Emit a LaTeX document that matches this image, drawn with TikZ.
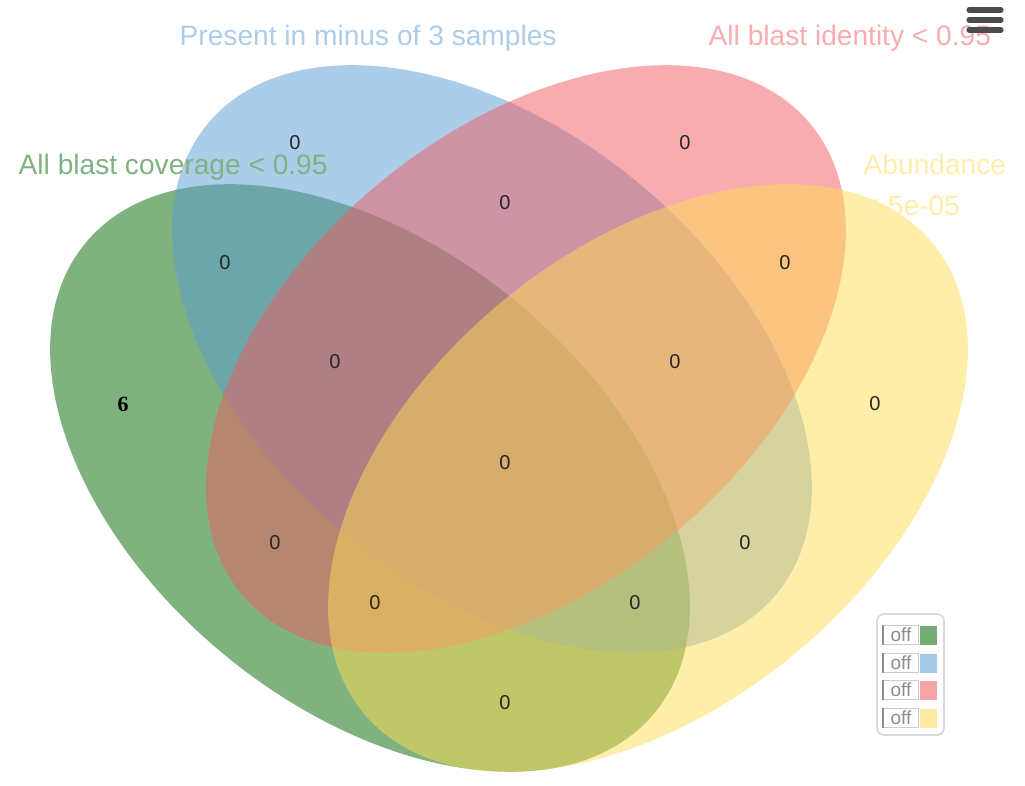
\documentclass[tikz,border=0pt]{standalone}
\usepackage{fontspec}
\setmainfont{Liberation Sans}
\newfontfamily\serifnum{Liberation Serif}
\definecolor{setgreen}{HTML}{006600}
\definecolor{setblue}{HTML}{5A9BD4}
\definecolor{setred}{HTML}{F15A60}
\definecolor{setyellow}{HTML}{FFDB55}
\begin{document}
\begin{tikzpicture}[x=0.01cm,y=-0.01cm,
    setfill/.style={fill=#1,fill opacity=0.5},
    num/.style={font=\fontsize{5.7}{6}\selectfont,text=black!85,inner sep=0pt},
    setlabel/.style={font=\fontsize{8}{9}\selectfont,inner sep=0pt,anchor=base west},
    offbtn/.style={font=\fontsize{5.4}{6}\selectfont,text=black!45,inner sep=0pt,
      minimum width=0.35cm,minimum height=0.19cm,draw=black!20,line width=0.3pt},
    swatch/.style={fill=#1,inner sep=0pt,minimum width=0.17cm,minimum height=0.19cm}]
    \useasboundingbox (0,0) rectangle (1025,785);
    % ellipse centres
    \coordinate (cG) at (370,478);
    \coordinate (cB) at (492,359);
    \coordinate (cR) at (526,359);
    \coordinate (cY) at (648,478);
    \fill[setfill=setgreen, rotate around={-39.5:(cG)}] (cG) ellipse [x radius=369, y radius=229];
    \fill[setfill=setblue, rotate around={-39.5:(cB)}] (cB) ellipse [x radius=369, y radius=229];
    \fill[setfill=setred, rotate around={39.5:(cR)}] (cR) ellipse [x radius=369, y radius=229];
    \fill[setfill=setyellow, rotate around={39.5:(cY)}] (cY) ellipse [x radius=369, y radius=229];
    % set names
    \node[setlabel, text=setblue!50] (lB) at (179,46) {Present in minus of 3 samples};
    \node[setlabel, text=setred!50] (lR) at (708,46) {All blast identity < 0.95};
    \node[setlabel, text=setgreen!50] (lG) at (18,175) {All blast coverage < 0.95};
    \node[setlabel, text=setyellow!50] (lY) at (863,175) {Abundance};
    \node[setlabel, text=setyellow!50] (lY2) at (863,215) {< 5e-05};
    % counts
    \node[num] (nB) at (295,143) {0};
    \node[num] (nR) at (685,143) {0};
    \node[num] (nBR) at (505,203) {0};
    \node[num] (nGB) at (225,263) {0};
    \node[num] (nRY) at (785,263) {0};
    \node[num] (nGBR) at (335,362) {0};
    \node[num] (nBRY) at (675,362) {0};
    \node[num, font=\serifnum\bfseries\fontsize{6.2}{7}\selectfont, text=black] (nG) at (123,404) {6};
    \node[num] (nY) at (875,404) {0};
    \node[num] (nAll) at (505,463) {0};
    \node[num] (nGR) at (275,543) {0};
    \node[num] (nBY) at (745,543) {0};
    \node[num] (nGRY) at (375,603) {0};
    \node[num] (nGBY) at (635,603) {0};
    \node[num] (nGY) at (505,703) {0};
    % menu
    \foreach \y in {10,20,30}
      \draw[black!70, line width=1.45pt, line cap=round] (969,\y) -- (1001,\y);
    % legend
    \draw[black!15, line width=0.5pt, rounded corners=2pt] (877,614) rectangle (944,735);
    \foreach \c/\y in {setgreen/635,setblue/663,setred/690,setyellow/718} {
      \node[offbtn] (off\c) at (901,\y) {off};
      \draw[black!45, line width=0.4pt] (off\c.north west) -- (off\c.south west);
      \node[swatch=\c!55] (sw\c) at (928,\y) {};
    }
\end{tikzpicture}
\end{document}
